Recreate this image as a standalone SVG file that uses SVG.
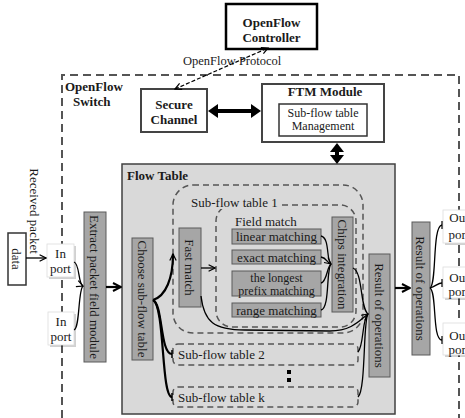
<svg xmlns="http://www.w3.org/2000/svg" width="465" height="418" viewBox="0 0 465 418">
<defs>
<style>
.t{font-family:"Liberation Serif","Times New Roman",serif;font-size:13px;fill:#1a1a1a}
.s{font-size:12px}
.b{font-weight:bold}
.m{text-anchor:middle}
.dash{fill:none;stroke:#555;stroke-width:2;stroke-dasharray:8 5}
.sd{fill:none;stroke:#555;stroke-width:1.5;stroke-dasharray:6 4}
.box{fill:#a6a6a6;stroke:#5a5a5a;stroke-width:1}
.port{fill:#fff;stroke:#ddd;stroke-width:0.8}
.shadow{fill:#000;opacity:0.18}
.c{fill:none;stroke:#000;stroke-width:1.3}
.ct{fill:none;stroke:#000;stroke-width:2.2}
</style>
<marker id="ah" viewBox="0 0 10 10" refX="9" refY="5" markerWidth="8" markerHeight="8" orient="auto-start-reverse" markerUnits="userSpaceOnUse">
<path d="M1,1 L9,5 L1,9" fill="none" stroke="#000" stroke-width="1.5"/>
</marker>
<marker id="ahb" viewBox="0 0 10 10" refX="9" refY="5" markerWidth="10" markerHeight="10" orient="auto-start-reverse" markerUnits="userSpaceOnUse">
<path d="M1,1 L9,5 L1,9" fill="none" stroke="#000" stroke-width="2"/>
</marker>
</defs>

<g id="switch">
<path class="dash" d="M62,418 L62,75 L459,75 L459,418"/>
<text class="t b" x="65" y="91">OpenFlow</text>
<text class="t b" x="73" y="106">Switch</text>
</g>

<g id="controller">
<rect x="226" y="4" width="91" height="45" fill="#fff" stroke="#000" stroke-width="2.5"/>
<text class="t b m" x="271.5" y="27">OpenFlow</text>
<text class="t b m" x="271.5" y="42">Controller</text>
</g>

<g id="secure-channel">
<rect x="141" y="89" width="66" height="43" fill="#fff" stroke="#444" stroke-width="2"/>
<text class="t b m" x="174" y="109">Secure</text>
<text class="t b m" x="174" y="124">Channel</text>
</g>

<g id="ftm">
<rect x="262" y="84" width="122" height="58" fill="#fff" stroke="#444" stroke-width="2"/>
<text class="t b m" x="325" y="96">FTM Module</text>
<rect x="279" y="104" width="88" height="32" fill="#fff" stroke="#333" stroke-width="1.5"/>
<text class="t s m" x="323" y="117">Sub-flow table</text>
<text class="t s m" x="323" y="130">Management</text>
</g>

<g id="flow-table">
<rect x="122" y="164" width="273" height="250" fill="#d9d9d9" stroke="#404040" stroke-width="1.5"/>
<text class="t b" x="127" y="180">Flow Table</text>
</g>

<g id="subflow1">
<rect class="sd" x="173" y="185" width="190" height="148" rx="20"/>
<rect class="sd" x="216" y="205" width="140" height="122" rx="16"/>
<rect x="188" y="195" width="92" height="14" fill="#d9d9d9"/>
<text class="t" x="191" y="207">Sub-flow table 1</text>
<rect x="232" y="214" width="66" height="13" fill="#d9d9d9"/>
<text class="t" x="235" y="226">Field match</text>
</g>

<g id="choose">
<rect class="box" x="132" y="238" width="21" height="122"/>
<text class="t m" transform="translate(142.5,299) rotate(90)" dy="0.35em">Choose sub-flow table</text>
</g>

<g id="fast-match">
<rect class="box" x="179" y="228" width="22" height="79"/>
<text class="t m" transform="translate(190,267.5) rotate(90)" dy="0.35em">Fast match</text>
</g>

<g id="linear">
<rect class="box" x="232" y="229" width="89" height="15"/>
<text class="t m" x="276.5" y="241">linear matching</text>
</g>
<g id="exact">
<rect class="box" x="232" y="250" width="89" height="14"/>
<text class="t m" x="276.5" y="261.5">exact matching</text>
</g>
<g id="longest">
<rect class="box" x="232" y="271" width="89" height="25"/>
<text class="t s m" x="276.5" y="282">the longest</text>
<text class="t s m" x="276.5" y="294.5">prefix matching</text>
</g>
<g id="range">
<rect class="box" x="232" y="303" width="89" height="14"/>
<text class="t m" x="276.5" y="314.5">range matching</text>
</g>

<g id="chips">
<rect class="box" x="332" y="217" width="21" height="95"/>
<text class="t m" transform="translate(342.5,264.5) rotate(90)" dy="0.35em">Chips integration</text>
</g>

<g id="result-inner">
<rect class="box" x="369" y="254" width="21" height="123"/>
<text class="t m" transform="translate(379.5,315.5) rotate(90)" dy="0.35em">Result of operations</text>
</g>

<g id="subflow2">
<rect class="sd" x="173" y="344" width="185" height="21" rx="5"/>
<text class="t" x="178" y="359">Sub-flow table 2</text>
</g>
<g id="dots">
<rect x="287" y="370" width="4" height="4" fill="#000"/>
<rect x="287" y="378" width="4" height="4" fill="#000"/>
</g>
<g id="subflowk">
<rect class="sd" x="173" y="387" width="185" height="20" rx="5"/>
<text class="t" x="178" y="402">Sub-flow table k</text>
</g>

<g id="result-outer">
<rect class="box" x="412" y="222" width="18" height="133"/>
<text class="t m" transform="translate(421,288.5) rotate(90)" dy="0.35em">Result of operations</text>
</g>

<g id="received">
<text class="t m" transform="translate(35,211) rotate(90)" dy="0.35em">Received packet</text>
<rect x="8" y="233" width="18" height="52" fill="#fff" stroke="#333" stroke-width="1.5"/>
<text class="t m" transform="translate(17,259) rotate(90)" dy="0.35em">data</text>
</g>

<g id="inport1">
<rect class="shadow" x="49" y="246" width="27" height="33"/>
<rect class="port" x="47" y="244" width="27" height="33"/>
<text class="t m" x="60.5" y="258">In</text>
<text class="t m" x="60.5" y="273">port</text>
</g>
<g id="inport2">
<rect class="shadow" x="50" y="314" width="26" height="33"/>
<rect class="port" x="48" y="312" width="26" height="33"/>
<text class="t m" x="61" y="326">In</text>
<text class="t m" x="61" y="341">port</text>
</g>

<g id="extract">
<rect class="box" x="84" y="212" width="22" height="150"/>
<text class="t m" transform="translate(95,287) rotate(90)" dy="0.35em">Extract packet field module</text>
</g>

<g id="outport1">
<rect class="shadow" x="445" y="212" width="30" height="33"/>
<rect class="port" x="443" y="210" width="30" height="33"/>
<text class="t m" x="459" y="222">Out</text>
<text class="t m" x="459" y="239">port</text>
</g>
<g id="outport2">
<rect class="shadow" x="445" y="269" width="30" height="31"/>
<rect class="port" x="443" y="267" width="30" height="31"/>
<text class="t m" x="459" y="282">Out</text>
<text class="t m" x="459" y="296">port</text>
</g>
<g id="outport3">
<rect class="shadow" x="445" y="325" width="30" height="32"/>
<rect class="port" x="443" y="323" width="30" height="32"/>
<text class="t m" x="459" y="340">Out</text>
<text class="t m" x="459" y="354">port</text>
</g>

<g id="connectors">
<text class="t" x="183" y="65" style="font-size:12.5px">OpenFlow Protocol</text>
<line x1="175" y1="89" x2="268" y2="48" stroke="#000" stroke-width="1.2" stroke-dasharray="4 2" marker-start="url(#ah)" marker-end="url(#ah)"/>
<line x1="216" y1="111" x2="253" y2="111" stroke="#000" stroke-width="4"/>
<polygon points="208,111 218,104 218,118" fill="#000"/>
<polygon points="261,111 251,104 251,118" fill="#000"/>
<line x1="337" y1="151" x2="337" y2="156" stroke="#000" stroke-width="4"/>
<polygon points="337,143 330,152 344,152" fill="#000"/>
<polygon points="337,164 330,155 344,155" fill="#000"/>
<line class="c" x1="26" y1="258" x2="46" y2="258" marker-end="url(#ah)"/>
<path class="c" d="M74,262 C80,264 78,284 83,286" marker-end="url(#ah)"/>
<path class="c" d="M74,330 C80,328 78,290 83,286"/>
<line class="ct" x1="106" y1="287" x2="121" y2="287" marker-end="url(#ahb)"/>
<path class="ct" d="M153,300 C166,296 173,278 173,254" marker-end="url(#ah)"/>
<path class="ct" d="M153,300 C163,304 160,354 172,354"/>
<path class="ct" d="M153,300 C165,306 161,397 172,397"/>
<line x1="172" y1="350" x2="172" y2="358" stroke="#000" stroke-width="1.5"/>
<line x1="172" y1="393" x2="172" y2="401" stroke="#000" stroke-width="1.5"/>
<line class="c" x1="201" y1="268" x2="215" y2="268" marker-end="url(#ah)"/>
<path class="c" d="M321,236 C330,238 326,260 331,264" marker-end="url(#ah)"/>
<path class="c" d="M321,257 C327,258 327,263 331,264"/>
<path class="c" d="M321,283 C327,282 327,266 331,264"/>
<path class="c" d="M321,310 C330,308 326,270 331,264"/>
<path class="c" d="M201,296 C204,322 214,330 245,330 L330,331 C352,331 360,320 368,314" marker-end="url(#ah)"/>
<path class="c" d="M353,268 C363,272 360,308 368,314"/>
<path class="c" d="M358,352 C364,346 362,318 368,314"/>
<path class="c" d="M358,397 C366,390 363,320 368,314"/>
<line class="ct" x1="395" y1="288" x2="410" y2="288" marker-end="url(#ahb)"/>
<path class="c" d="M430,288 C437,284 432,226 442,225"/>
<path class="c" d="M430,288 C436,286 438,283 442,283"/>
<path class="c" d="M430,288 C437,292 432,340 442,340"/>
<line x1="442" y1="221" x2="442" y2="229" stroke="#000" stroke-width="1.2"/>
<line x1="442" y1="279" x2="442" y2="287" stroke="#000" stroke-width="1.2"/>
<line x1="442" y1="336" x2="442" y2="344" stroke="#000" stroke-width="1.2"/>
</g>
</svg>
